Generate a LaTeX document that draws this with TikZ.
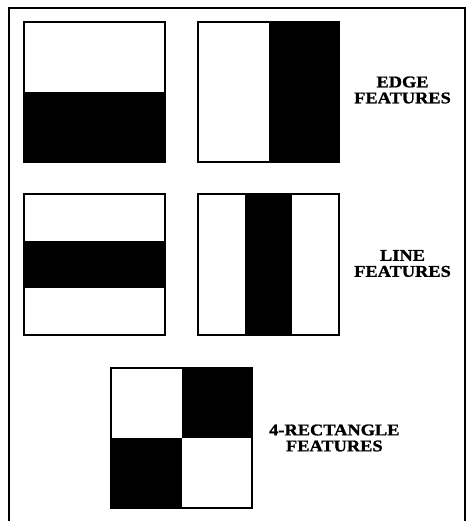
\documentclass[tikz,border=0pt]{standalone}
\usepackage{fontspec}
\setmainfont{Liberation Serif}
\newfontfamily\haarfont[FakeStretch=1.12,FakeBold=1.2]{Liberation Serif Bold}
\usepackage{tikz}
\usetikzlibrary{positioning,calc}

\tikzset{
  haarbox/.style={
    draw=black,
    line width=2pt,
    fill=white,
    inner sep=0pt,
    minimum width=141pt,
    minimum height=140pt
  },
  haarlabel/.style={
    inner sep=0pt,
    align=center,
    font=\haarfont\fontsize{16.4}{16}\selectfont
  }
}

\begin{document}
\begin{tikzpicture}[x=1pt,y=-1pt]
    \clip (0,0) rectangle (466,521);
    \useasboundingbox (0,0) rectangle (466,521);
    \fill[white] (0,0) rectangle (466,521);

    % outer frame, open at the bottom of the page
    \draw[line width=2pt] (8.5,540) -- (8.5,8.5) -- (464.5,8.5) -- (464.5,540);

    % edge features
    \node[haarbox,
      path picture={\fill[black] (path picture bounding box.west) rectangle (path picture bounding box.south east);}
    ] (edgeA) at (94.5,92) {};
    \node[haarbox,
      path picture={\fill[black] (path picture bounding box.north) rectangle (path picture bounding box.south east);}
    ] (edgeB) at (268.5,92) {};
    \node[haarlabel, right=14pt of edgeB, yshift=2pt] (edgeText) {EDGE\\FEATURES};

    % line features
    \node[haarbox,
      path picture={\fill[black] ($(path picture bounding box.north west)!1/3!(path picture bounding box.south west)$)
        rectangle ($(path picture bounding box.north east)!2/3!(path picture bounding box.south east)$);}
    ] (lineA) at (94.5,264.5) {};
    \node[haarbox,
      path picture={\fill[black] ($(path picture bounding box.north west)!1/3!(path picture bounding box.north east)$)
        rectangle ($(path picture bounding box.south west)!2/3!(path picture bounding box.south east)$);}
    ] (lineB) at (268.5,264.5) {};
    \node[haarlabel, right=14pt of lineB, yshift=1pt] (lineText) {LINE\\FEATURES};

    % four-rectangle features
    \node[haarbox,
      path picture={
        \fill[black] (path picture bounding box.north) rectangle (path picture bounding box.east);
        \fill[black] (path picture bounding box.west) rectangle (path picture bounding box.south);}
    ] (quadA) at (181.5,438) {};
    \node[haarlabel, right=16pt of quadA] (quadText) {4-RECTANGLE\\FEATURES};
  \end{tikzpicture}
\end{document}
